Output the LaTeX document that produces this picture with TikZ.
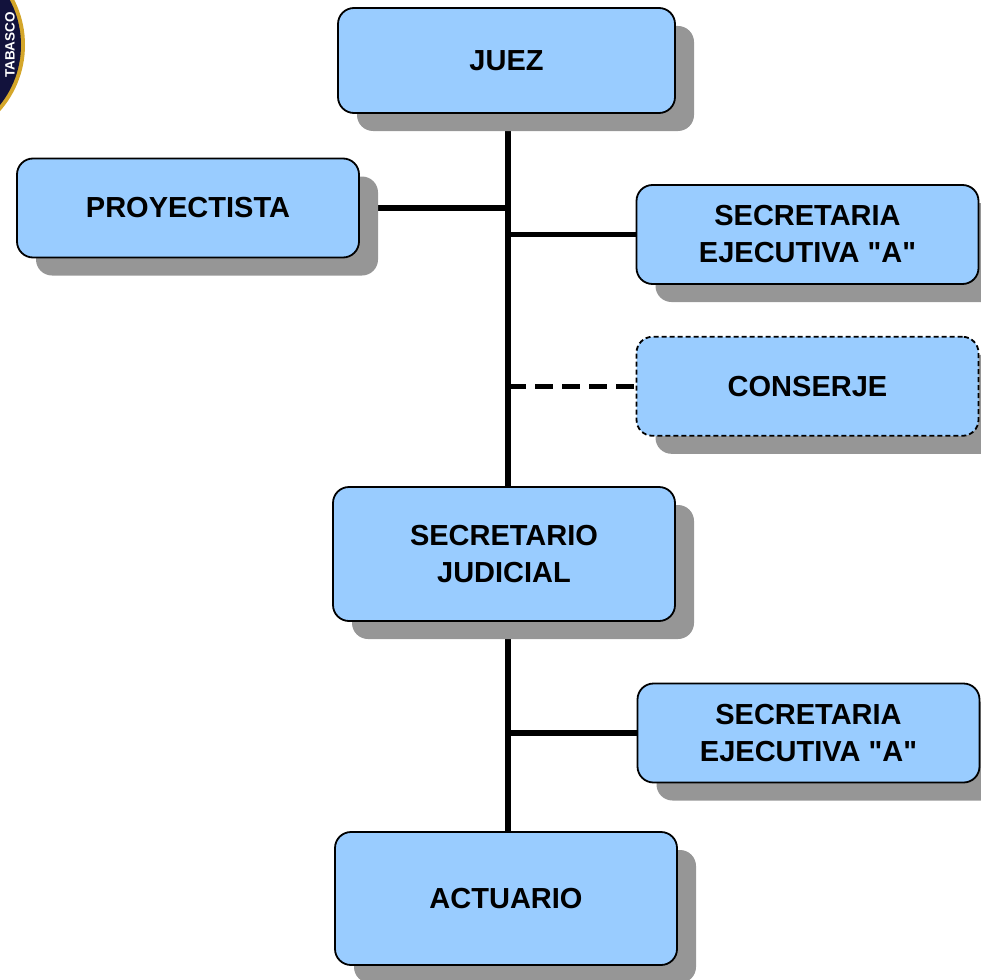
\documentclass[tikz,border=0pt]{standalone}
\usepackage{fontspec}
\setmainfont{Liberation Sans}
\usepackage{tikz}
\usetikzlibrary{positioning,shapes,shadows,backgrounds,calc}
\definecolor{boxblue}{HTML}{99CCFF}
\definecolor{shadowgray}{HTML}{969696}
\definecolor{sealblue}{HTML}{12123C}
\definecolor{sealgold}{HTML}{D4A62A}

\begin{document}
\begin{tikzpicture}[x=1pt,y=-1pt,
mybox/.style={
  draw,
  line width=1.8pt,
  rounded corners=16pt,
  fill=boxblue,
  minimum width=342pt,
  minimum height=99pt,
  align=center,
  font=\fontsize{29}{37}\selectfont\bfseries,
  drop shadow={shadow xshift=19pt,shadow yshift=-18pt,fill=shadowgray,opacity=1}},
tallbox/.style={
  mybox,
  minimum height=134pt},
dashbox/.style={
  mybox,
  dash pattern=on 5pt off 3pt},
link/.style={
  line width=5.5pt}
]
\useasboundingbox (0,0) rectangle (981,979);
\fill[sealgold] (-75,45) circle [radius=100];
\fill[sealblue] (-75,45) circle [radius=96];
\node[rotate=90,text=white,inner sep=0pt,
  font=\fontsize{13.5}{13.5}\selectfont\bfseries] (seal) at (10,45) {TABASCO};
\coordinate (trunk) at (508,0);
\node[mybox,minimum width=337pt,minimum height=105pt] (juez) at (506.5,60.5) {JUEZ};
\node[mybox] (proyectista) at (188,208) {PROYECTISTA};
\node[mybox] (secaone) at (807.5,234.5) {SECRETARIA\\EJECUTIVA \textquotedbl A\textquotedbl};
\node[dashbox,below=51pt of secaone] (conserje) {CONSERJE};
\node[tallbox] (secjudicial) at (504,554) {SECRETARIO\\JUDICIAL};
\node[mybox] (secatwo) at (808.5,733) {SECRETARIA\\EJECUTIVA \textquotedbl A\textquotedbl};
\node[tallbox,minimum height=133pt] (actuario) at (506,898.5) {ACTUARIO};
\begin{scope}[on background layer]
\draw[link] (juez.south -| trunk) -- (secjudicial.north -| trunk);
\draw[link] (secjudicial.south -| trunk) -- (actuario.north -| trunk);
\draw[link] (proyectista.east) -- (proyectista.east -| trunk);
\draw[link] (trunk |- secaone.west) -- (secaone.west);
\draw[link,dash pattern=on 18pt off 9pt] (trunk |- conserje.west) -- (conserje.west);
\draw[link] (trunk |- secatwo.west) -- (secatwo.west);
\end{scope}
\end{tikzpicture}
\end{document}
